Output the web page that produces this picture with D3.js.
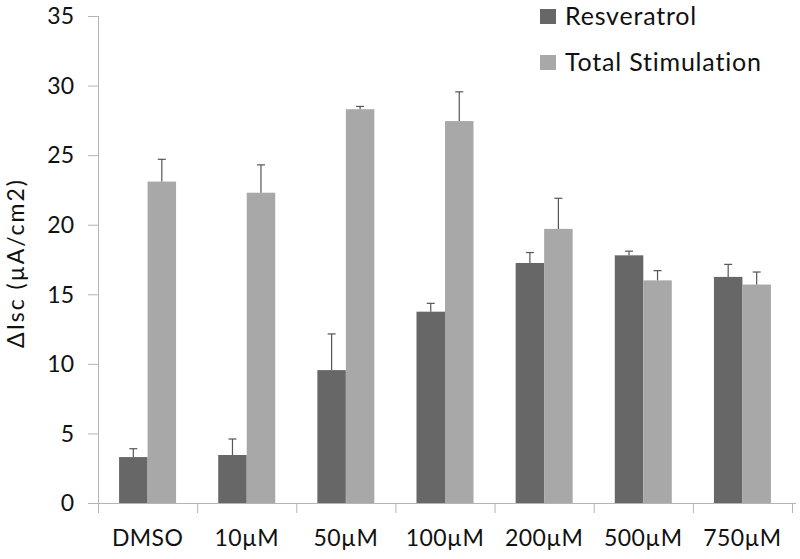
<!DOCTYPE html>
<html>
<head>
<meta charset="utf-8">
<style>
  body { margin: 0; background: #fff; }
  text { font-family: Lato, "Open Sans", sans-serif; fill: #111; }
</style>
</head>
<body>
<svg width="800" height="559"></svg>
<script src="https://d3js.org/d3.v7.min.js"></script>
<script>
var categories = ["DMSO", "10\u00b5M", "50\u00b5M", "100\u00b5M", "200\u00b5M", "500\u00b5M", "750\u00b5M"];
var seriesNames = ["Resveratrol", "Total Stimulation"];
var resveratrol = [3.3, 3.45, 9.55, 13.75, 17.25, 17.8, 16.25];
var resveratrolErr = [0.6, 1.15, 2.6, 0.6, 0.75, 0.3, 0.9];
var totalStim = [23.1, 22.3, 28.3, 27.45, 19.7, 16.0, 15.7];
var totalStimErr = [1.6, 2.0, 0.2, 2.1, 2.2, 0.7, 0.9];
var yTicks = [0, 5, 10, 15, 20, 25, 30, 35];

var colors = ["#676767", "#a8a8a8"];

var svg = d3.select("svg");

var x = d3.scaleBand().domain(categories).range([98, 792]);
var x1 = d3.scaleBand().domain(seriesNames).range([x.bandwidth() / 2 - 28.5, x.bandwidth() / 2 + 28.5]);
var y = d3.scaleLinear().domain([0, 35]).range([503, 16]);

// y axis
var yAxis = svg.append("g");
yAxis.append("line")
    .attr("x1", 98.5).attr("x2", 98.5)
    .attr("y1", y(35)).attr("y2", y(0))
    .attr("stroke", "#b5b5b5");
yAxis.selectAll(".tk").data(yTicks).enter().append("line")
    .attr("x1", 88).attr("x2", 98)
    .attr("y1", function(d) { return y(d) + 0.5; })
    .attr("y2", function(d) { return y(d) + 0.5; })
    .attr("stroke", "#b5b5b5");
yAxis.selectAll("text").data(yTicks).enter().append("text")
    .attr("x", 74)
    .attr("y", function(d) { return y(d); })
    .attr("dy", "0.36em")
    .attr("text-anchor", "end")
    .attr("font-size", 23)
    .text(function(d) { return d; });

svg.append("text")
    .attr("transform", "translate(24," + 263 + ")rotate(-90)")
    .attr("text-anchor", "middle")
    .attr("font-size", 23)
    .attr("letter-spacing", 2)
    .text("\u0394Isc (\u00b5A/cm2)");

// bars
var rows = categories.map(function(c, i) {
  return { cat: c, vals: [
    { key: seriesNames[0], v: resveratrol[i], e: resveratrolErr[i], c: colors[0] },
    { key: seriesNames[1], v: totalStim[i], e: totalStimErr[i], c: colors[1] }
  ]};
});

var groups = svg.append("g").selectAll("g").data(rows).enter().append("g")
    .attr("transform", function(d) { return "translate(" + x(d.cat) + ",0)"; });

groups.selectAll("rect").data(function(d) { return d.vals; }).enter().append("rect")
    .attr("x", function(d) { return x1(d.key); })
    .attr("width", x1.bandwidth())
    .attr("y", function(d) { return y(d.v); })
    .attr("height", function(d) { return y(0) - y(d.v); })
    .attr("fill", function(d) { return d.c; });

// error bars (upper only)
var eb = groups.selectAll(".eb").data(function(d) { return d.vals; }).enter().append("g");
eb.append("line")
    .attr("x1", function(d) { return x1(d.key) + x1.bandwidth() / 2; })
    .attr("x2", function(d) { return x1(d.key) + x1.bandwidth() / 2; })
    .attr("y1", function(d) { return y(d.v); })
    .attr("y2", function(d) { return y(d.v + d.e); })
    .attr("stroke", "#555").attr("stroke-width", 1.2);
eb.append("line")
    .attr("x1", function(d) { return x1(d.key) + x1.bandwidth() / 2 - 4; })
    .attr("x2", function(d) { return x1(d.key) + x1.bandwidth() / 2 + 4; })
    .attr("y1", function(d) { return y(d.v + d.e); })
    .attr("y2", function(d) { return y(d.v + d.e); })
    .attr("stroke", "#555").attr("stroke-width", 1.2);

// x axis
var xAxis = svg.append("g");
xAxis.append("line")
    .attr("x1", 88).attr("x2", 796)
    .attr("y1", y(0) + 0.5).attr("y2", y(0) + 0.5)
    .attr("stroke", "#b5b5b5");
var bounds = categories.map(function(c) { return x(c); }).concat([x.range()[1]]);
xAxis.selectAll(".tk").data(bounds).enter().append("line")
    .attr("x1", function(d) { return d + 0.5; }).attr("x2", function(d) { return d + 0.5; })
    .attr("y1", y(0)).attr("y2", y(0) + 10)
    .attr("stroke", "#b5b5b5");
xAxis.selectAll("text").data(categories).enter().append("text")
    .attr("x", function(d) { return x(d) + x.bandwidth() / 2; })
    .attr("y", 546)
    .attr("text-anchor", "middle")
    .attr("font-size", 23)
    .attr("letter-spacing", 0.4)
    .text(function(d) { return d; });

// legend
var legend = svg.append("g").selectAll("g").data(seriesNames).enter().append("g")
    .attr("transform", function(d, i) { return "translate(540," + (9 + i * 46) + ")"; });
legend.append("rect")
    .attr("width", 16).attr("height", 15)
    .attr("fill", function(d, i) { return colors[i]; });
legend.append("text")
    .attr("x", 25).attr("y", 16)
    .attr("font-size", 25)
    .attr("letter-spacing", 0.8)
    .text(function(d) { return d; });
</script>
</body>
</html>
